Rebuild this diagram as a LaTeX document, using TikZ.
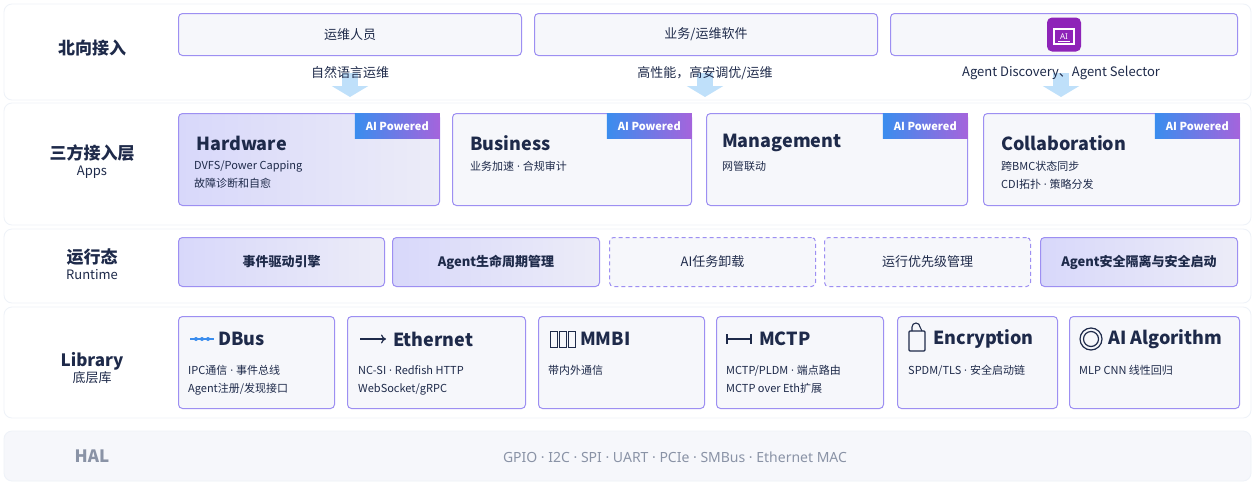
\documentclass[tikz,border=0pt]{standalone}
\usepackage{fontspec}
\setmainfont{Noto Sans CJK SC}
\newfontfamily\latin{Noto Sans}
\newcommand{\md}{{\latin\ ·\ }}
\usetikzlibrary{arrows.meta}
\definecolor{ink}{HTML}{1E2A4A}
\definecolor{edge}{HTML}{9D8FF2}
\definecolor{pale}{HTML}{F6F7FB}
\definecolor{hi}{HTML}{D8D8FA}
\definecolor{hi2}{HTML}{ECECF8}
\definecolor{band}{HTML}{EEF2F8}
\definecolor{sky}{HTML}{BFE0FA}
\definecolor{badgeA}{HTML}{3A8DEE}
\definecolor{badgeB}{HTML}{A564DC}
\definecolor{aiicon}{HTML}{8E24B8}
\definecolor{grey}{HTML}{8A93A6}
\tikzset{
  panel/.style={draw=band,fill=white,rounded corners=8pt,line width=0.8pt},
  box/.style={draw=edge,fill=pale,rounded corners=4pt,line width=1pt,anchor=north west,inner sep=0pt},
  hot/.style={box,draw=edge,left color=hi,right color=hi2},
  dashbox/.style={box,dash pattern=on 4pt off 3pt},
  rowlabel/.style={text=ink,font=\bfseries\fontsize{17}{19}\selectfont,align=center},
  title/.style={text=ink,font=\bfseries\fontsize{18}{20}\selectfont,anchor=west,inner sep=0pt},
  sub/.style={text=ink,font=\fontsize{11}{18}\selectfont,anchor=north west,align=left,inner sep=0pt},
  badge/.style={anchor=north east,inner sep=0pt,minimum width=85pt,minimum height=25pt,
    left color=badgeA,right color=badgeB,text=white,font=\bfseries\fontsize{11}{12}\selectfont},
  flow/.style={draw=sky,line width=16pt,-{Triangle[width=36pt,length=11pt]}},
}
\begin{document}
\begin{tikzpicture}[x=1pt,y=-1pt]
  \useasboundingbox[fill=white] (0,0) rectangle (1255,485);
  % layer bands
  \draw[panel] (4,4) rectangle (1251,100);
  \draw[panel] (4,103) rectangle (1251,225);
  \draw[panel] (4,229) rectangle (1251,303);
  \draw[panel] (4,307) rectangle (1251,418);
  \draw[panel,fill=pale,draw=band] (4,431) rectangle (1251,481);

  \node[rowlabel] (l1) at (92,48) {北向接入};
  \node[rowlabel,align=center] (l2) at (92,162) {三方接入层\\[-3pt]{\mdseries\fontsize{13}{15}\selectfont Apps}};
  \node[rowlabel] (l3) at (92,264) {运行态\\[-3pt]{\mdseries\fontsize{13}{15}\selectfont Runtime}};
  \node[rowlabel] (l4) at (92,368) {Library\\[-3pt]{\mdseries\fontsize{13}{15}\selectfont 底层库}};
  \node[rowlabel,text=grey] (l5) at (92,456) {HAL};

  % north side
  \node[box,minimum width=343pt,minimum height=42pt] (n1) at (178,13) {};
  \node[box,minimum width=343pt,minimum height=42pt] (n2) at (534,13) {};
  \node[box,minimum width=347pt,minimum height=42pt] (n3) at (890,13) {};
  \node[text=ink,font=\fontsize{13}{15}\selectfont] at (n1.center) {运维人员};
  \node[text=ink,font=\fontsize{13}{15}\selectfont] at (n2.center) {业务/运维软件};
  \node[fill=aiicon,rounded corners=5pt,minimum width=34pt,minimum height=34pt] (ai) at (n3.center) {};
  \node[draw=white,line width=1.2pt,minimum width=20pt,minimum height=15pt,inner sep=0pt,
    text=white,font=\latin\fontsize{8}{8}\selectfont] (screen) at ([yshift=-2pt]ai.center) {AI};
  \draw[white,line width=1.4pt] ([yshift=3pt,xshift=-6pt]screen.south) -- ([yshift=3pt,xshift=6pt]screen.south);

  \coordinate (a1) at (350,73);  \coordinate (b1) at (350,97);
  \coordinate (a2) at (705,73);  \coordinate (b2) at (705,97);
  \coordinate (a3) at (1061,73); \coordinate (b3) at (1061,97);
  \draw[flow] (a1) -- (b1);
  \draw[flow] (a2) -- (b2);
  \draw[flow] (a3) -- (b3);
  \node[text=ink,font=\fontsize{13}{15}\selectfont] at (a1) {自然语言运维};
  \node[text=ink,font=\fontsize{13}{15}\selectfont] at (a2) {高性能，高安调优/运维};
  \node[text=ink,font=\fontsize{13}{15}\selectfont] at (a3) {Agent Discovery、Agent Selector};

  % apps
  \node[hot,minimum width=261pt,minimum height=92pt] (hw) at (178,113) {};
  \node[box,minimum width=239pt,minimum height=92pt] (bz) at (452,113) {};
  \node[box,minimum width=261pt,minimum height=92pt] (mg) at (706,113) {};
  \node[box,minimum width=256pt,minimum height=92pt] (co) at (983,113) {};
  \foreach \c in {hw,bz,mg,co}
    \node[badge] at (\c.north east) {AI Powered};
  \node[title] at ([xshift=18pt,yshift=-30pt]hw.north west) {Hardware};
  \node[sub] at ([xshift=16pt,yshift=-48pt]hw.north west) {DVFS/Power Capping\\故障诊断和自愈};
  \node[title] at ([xshift=18pt,yshift=-30pt]bz.north west) {Business};
  \node[sub] at ([xshift=18pt,yshift=-48pt]bz.north west) {业务加速\md 合规审计};
  \node[title] at ([xshift=16pt,yshift=-30pt]mg.north west) {Management};
  \node[sub] at ([xshift=16pt,yshift=-48pt]mg.north west) {网管联动};
  \node[title] at ([xshift=18pt,yshift=-30pt]co.north west) {Collaboration};
  \node[sub] at ([xshift=18pt,yshift=-48pt]co.north west) {跨BMC状态同步\\CDI拓扑\md 策略分发};

  % runtime
  \node[hot,minimum width=206pt,minimum height=49pt] (r1) at (178,237) {};
  \node[hot,minimum width=207pt,minimum height=49pt] (r2) at (392,237) {};
  \node[dashbox,minimum width=206pt,minimum height=49pt] (r3) at (609,237) {};
  \node[dashbox,minimum width=206pt,minimum height=49pt] (r4) at (824,237) {};
  \node[hot,minimum width=197pt,minimum height=49pt] (r5) at (1040,237) {};
  \node[text=ink,font=\bfseries\fontsize{13}{15}\selectfont] at (r1.center) {事件驱动引擎};
  \node[text=ink,font=\bfseries\fontsize{13}{15}\selectfont] at (r2.center) {Agent生命周期管理};
  \node[text=ink,font=\fontsize{13}{15}\selectfont] at (r3.center) {AI任务卸载};
  \node[text=ink,font=\fontsize{13}{15}\selectfont] at (r4.center) {运行优先级管理};
  \node[text=ink,font=\bfseries\fontsize{13}{15}\selectfont] at (r5.center) {Agent安全隔离与安全启动};

  % library
  \node[box,minimum width=156pt,minimum height=92pt] (db) at (178,316) {};
  \node[box,minimum width=178pt,minimum height=92pt] (et) at (347,316) {};
  \node[box,minimum width=166pt,minimum height=92pt] (mm) at (538,316) {};
  \node[box,minimum width=167pt,minimum height=92pt] (mc) at (716,316) {};
  \node[box,minimum width=160pt,minimum height=92pt] (en) at (897,316) {};
  \node[box,minimum width=170pt,minimum height=92pt] (al) at (1069,316) {};

  \draw[badgeA,line width=1.2pt] (190,339) -- (214,339);
  \foreach \x in {196,202,208} \fill[badgeA] (\x,339) circle (2pt);
  \node[title] at (218,339) {DBus};
  \draw[ink,line width=1.2pt,-{To[length=5pt,width=9pt]}] (360,339) -- (386,339);
  \node[title] at (393,339) {Ethernet};
  \foreach \x in {550,559,568} \draw[ink,line width=0.8pt] (\x,331) rectangle (\x+7,347);
  \node[title] at (580,339) {MMBI};
  \draw[ink,line width=1.2pt] (727,339) -- (751,339) (727,334) -- (727,344) (751,334) -- (751,344);
  \node[title] at (759,339) {MCTP};
  \draw[ink,line width=1.1pt,rounded corners=1pt] (909,331) rectangle (925,351);
  \draw[ink,line width=1.1pt] (912,331) -- (912,327) arc (180:0:4pt) -- (922,331);
  \node[title] at (933,339) {Encryption};
  \draw[ink,line width=1.2pt] (1091,339) circle (11pt) (1091,339) circle (7.5pt);
  \node[title] at (1108,339) {AI Algorithm};

  \node[sub] at (188,365) {IPC通信\md 事件总线\\Agent注册/发现接口};
  \node[sub] at (358,365) {NC-SI\md Redfish HTTP\\WebSocket/gRPC};
  \node[sub] at (548,365) {带内外通信};
  \node[sub] at (726,365) {MCTP/PLDM\md 端点路由\\MCTP over Eth扩展};
  \node[sub] at (908,365) {SPDM/TLS\md 安全启动链};
  \node[sub] at (1079,365) {MLP CNN 线性回归};

  % HAL
  \node[text=grey,font=\latin\fontsize{14}{16}\selectfont] (hal) at (675,457) {GPIO\md I2C\md SPI\md UART\md PCIe\md SMBus\md Ethernet MAC};
\end{tikzpicture}
\end{document}
